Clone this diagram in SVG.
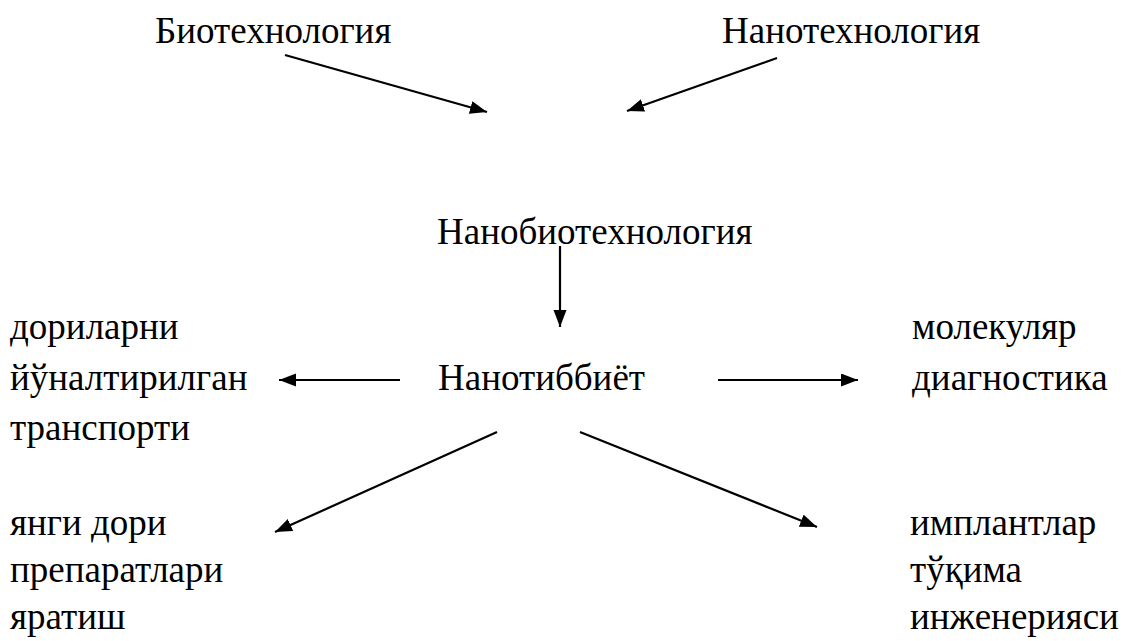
<svg xmlns="http://www.w3.org/2000/svg" width="1126" height="641" viewBox="0 0 1126 641">
<style>
.t{font-family:'Liberation Serif','Times New Roman',serif;font-size:37px;fill:#000}
.c line{stroke:#000;stroke-width:2.2;fill:none}
</style>
<defs>
<marker id="ah" markerUnits="userSpaceOnUse" markerWidth="18" markerHeight="14" refX="17" refY="6.5" orient="auto">
<path d="M0,0 L17,6.5 L0,13 z" fill="#000"/>
</marker>
</defs>
<rect width="1126" height="641" fill="#fff"/>
<g class="t">
<g id="bio"><text x="155" y="43">Биотехнология</text></g>
<g id="nanotech"><text x="722" y="43">Нанотехнология</text></g>
<g id="nanobio"><text x="437" y="244">Нанобиотехнология</text></g>
<g id="nanomed"><text x="438" y="390">Нанотиббиёт</text></g>
<g id="drugtransport"><text x="10" y="339">дориларни</text><text x="10" y="390">йўналтирилган</text><text x="10" y="440">транспорти</text></g>
<g id="diagnostics"><text x="912" y="339">молекуляр</text><text x="912" y="390">диагностика</text></g>
<g id="newdrugs"><text x="10" y="535">янги дори</text><text x="10" y="582">препаратлари</text><text x="10" y="629">яратиш</text></g>
<g id="implants"><text x="910" y="535">имплантлар</text><text x="910" y="582">тўқима</text><text x="910" y="629">инженерияси</text></g>
</g>
<g class="c" id="connectors">
<line x1="285" y1="55" x2="487" y2="112" marker-end="url(#ah)"/>
<line x1="777" y1="58" x2="627" y2="111" marker-end="url(#ah)"/>
<line x1="560" y1="246" x2="560" y2="327" marker-end="url(#ah)"/>
<line x1="400" y1="380" x2="279" y2="380" marker-end="url(#ah)"/>
<line x1="718" y1="380" x2="858" y2="380" marker-end="url(#ah)"/>
<line x1="497" y1="432" x2="275" y2="532" marker-end="url(#ah)"/>
<line x1="580" y1="432" x2="817" y2="527" marker-end="url(#ah)"/>
</g>
</svg>
